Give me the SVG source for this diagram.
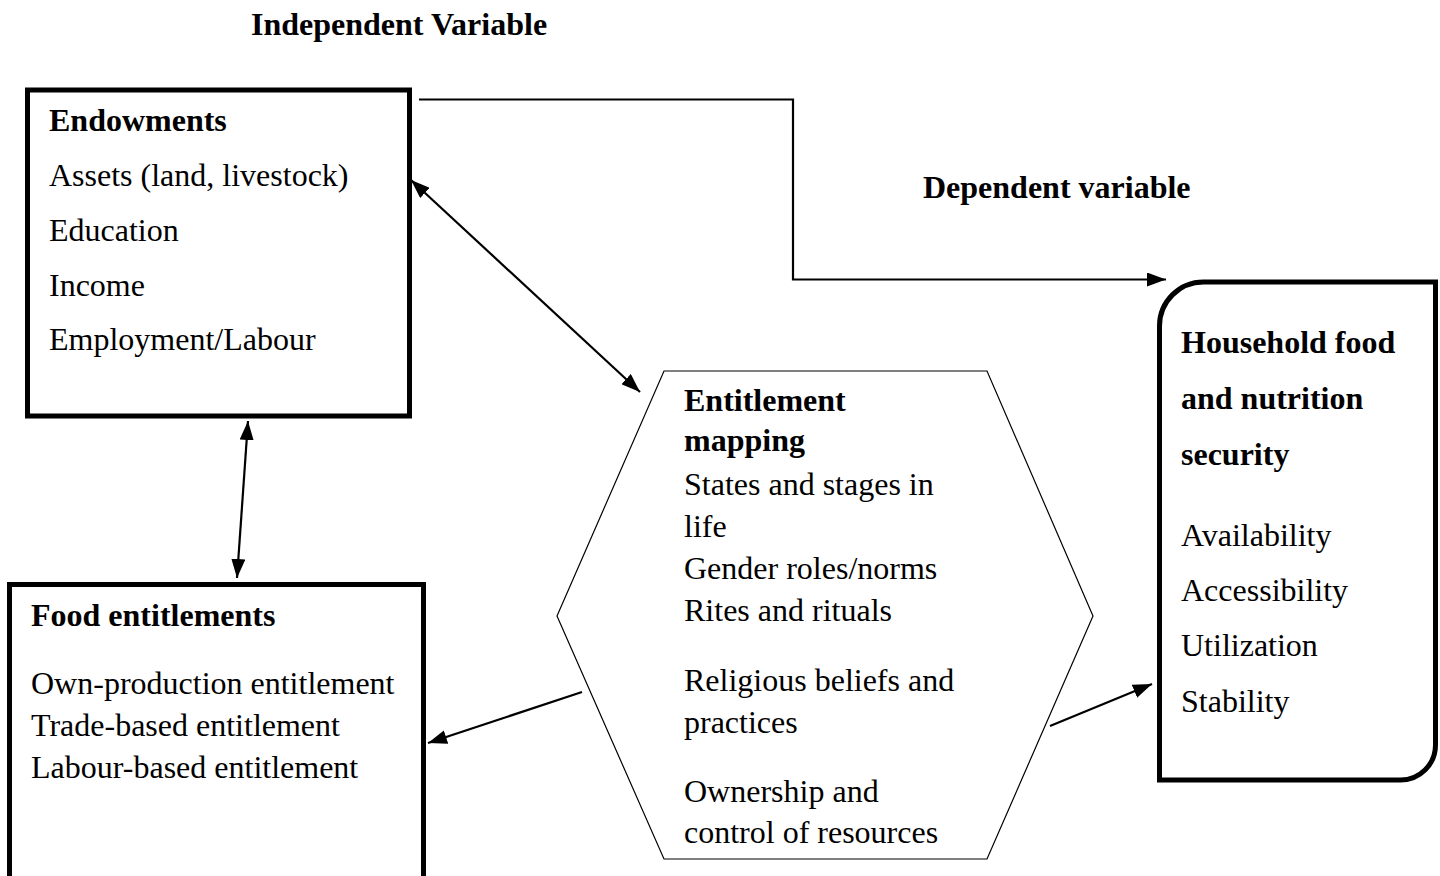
<svg xmlns="http://www.w3.org/2000/svg" width="1440" height="876" viewBox="0 0 1440 876">
<style>
text{font-family:"Liberation Serif","Times New Roman",serif;font-size:32px;fill:#000}
.b{font-weight:bold}
.box{fill:#fff;stroke:#000;stroke-width:5}
.hex{fill:#fff;stroke:#000;stroke-width:1.2}
.c{fill:none;stroke:#000;stroke-width:2.2}
</style>
<defs>
<marker id="ah" markerUnits="userSpaceOnUse" markerWidth="20" markerHeight="14" refX="19" refY="7" orient="auto-start-reverse">
<path d="M0,0 L19,7 L0,14 z" fill="#000"/>
</marker>
</defs>
<rect width="1440" height="876" fill="#fff"/>
<text class="b" x="251" y="35">Independent Variable</text>
<text class="b" x="923" y="198">Dependent variable</text>
<g id="endowments">
<rect class="box" x="27.5" y="90" width="382" height="326"/>
<text class="b" x="49" y="131">Endowments</text>
<text x="49" y="186">Assets (land, livestock)</text>
<text x="49" y="241">Education</text>
<text x="49" y="296">Income</text>
<text x="49" y="350">Employment/Labour</text>
</g>
<g id="food-entitlements">
<rect class="box" x="9.5" y="584.5" width="414" height="310"/>
<text class="b" x="31" y="626">Food entitlements</text>
<text x="31" y="694">Own-production entitlement</text>
<text x="31" y="736">Trade-based entitlement</text>
<text x="31" y="778">Labour-based entitlement</text>
</g>
<g id="entitlement-mapping">
<polygon class="hex" points="664,371 987,371 1093,616 987,859 664,859 557,616"/>
<text class="b" x="684" y="411">Entitlement</text>
<text class="b" x="684" y="451">mapping</text>
<text x="684" y="495">States and stages in</text>
<text x="684" y="537">life</text>
<text x="684" y="579">Gender roles/norms</text>
<text x="684" y="621">Rites and rituals</text>
<text x="684" y="691">Religious beliefs and</text>
<text x="684" y="733">practices</text>
<text x="684" y="802">Ownership and</text>
<text x="684" y="843">control of resources</text>
</g>
<g id="household">
<path class="box" d="M1159.5,780 V326 A44,44 0 0 1 1203.5,282 H1435.5 V745 A35,35 0 0 1 1400.5,780 Z"/>
<text class="b" x="1181" y="353">Household food</text>
<text class="b" x="1181" y="409">and nutrition</text>
<text class="b" x="1181" y="465">security</text>
<text x="1181" y="546">Availability</text>
<text x="1181" y="601">Accessibility</text>
<text x="1181" y="656">Utilization</text>
<text x="1181" y="712">Stability</text>
</g>
<g id="connectors">
<path class="c" d="M419,99.5 H793 V279.5 H1166" marker-end="url(#ah)"/>
<path class="c" d="M411,180 L640,392" marker-start="url(#ah)" marker-end="url(#ah)"/>
<path class="c" d="M248,421 L237,578" marker-start="url(#ah)" marker-end="url(#ah)"/>
<path class="c" d="M582,692 L428,743" marker-end="url(#ah)"/>
<path class="c" d="M1050,726 L1152,684" marker-end="url(#ah)"/>
</g>
</svg>
